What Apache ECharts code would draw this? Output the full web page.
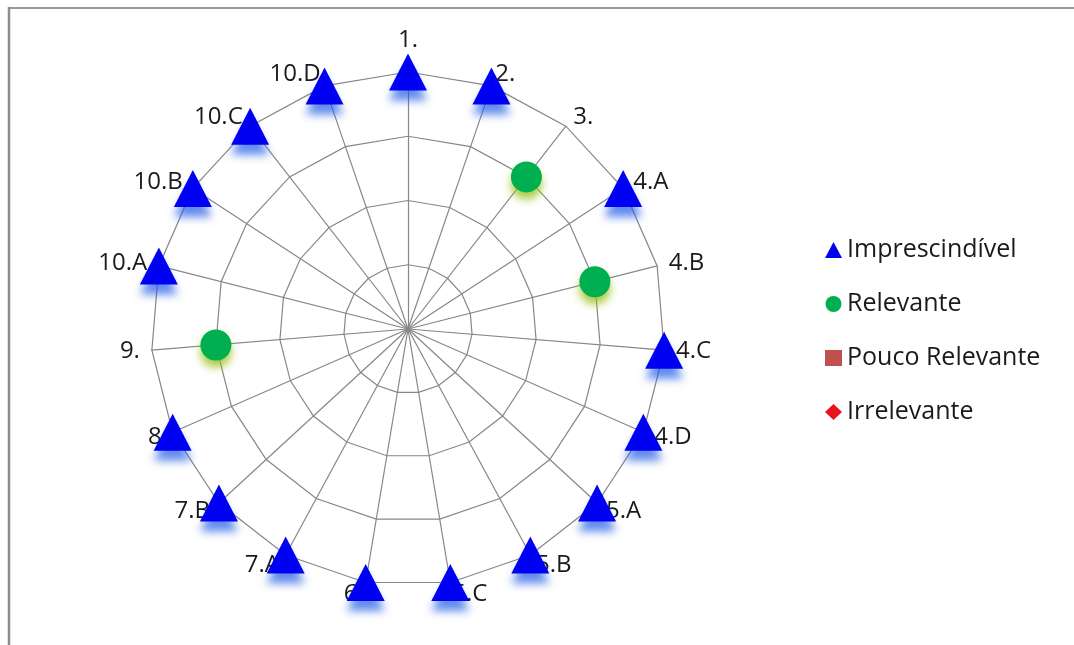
<!DOCTYPE html>
<html>
<head>
<meta charset="utf-8">
<title>Radar de relevância</title>
<script src="https://cdn.jsdelivr.net/npm/echarts@6/dist/echarts.min.js"></script>
<style>
  html, body { margin: 0; padding: 0; background: #ffffff; }
  #chart { width: 1074px; height: 645px; }
</style>
</head>
<body>
<div id="chart"></div>
<script>
// Items evaluated, in clockwise order starting at the top
const categories = ['1.', '2.', '3.', '4.A', '4.B', '4.C', '4.D', '5.A', '5.B', '5.C',
  '6.', '7.A', '7.B', '8', '9.', '10.A', '10.B', '10.C', '10.D'];

// Rating given to each item (4 = Imprescindível ... 1 = Irrelevante)
const ratings = [4, 4, 3, 4, 3, 4, 4, 4, 4, 4, 4, 4, 4, 4, 3, 4, 4, 4, 4];

// Rating scale
const levelNames = ['Imprescindível', 'Relevante', 'Pouco Relevante', 'Irrelevante'];
const levelValues = [4, 3, 2, 1];
const scaleMax = 4;

const CENTER = [408, 329];
const RADIUS = 257;
const FONT = "'Open Sans', 'DejaVu Sans', sans-serif";

// Radar draws its indicators counter-clockwise, so keep the first item on top
// and list the rest in reverse to read clockwise.
const radarOrder = [categories[0]].concat(categories.slice(1).reverse());

const levelStyles = [
  { symbol: 'triangle', size: [38, 37], color: '#0000f2',
    shadowColor: 'rgba(30, 90, 230, 0.7)', shadowBlur: 9, shadowOffsetY: 10 },
  { symbol: 'circle', size: 31, color: '#00b050',
    shadowColor: 'rgba(150, 190, 20, 0.8)', shadowBlur: 9, shadowOffsetY: 7 },
  { symbol: 'rect', size: 16, color: '#c0504d',
    shadowColor: 'rgba(0,0,0,0)', shadowBlur: 0, shadowOffsetY: 0 },
  { symbol: 'diamond', size: 16, color: '#e8141c',
    shadowColor: 'rgba(0,0,0,0)', shadowBlur: 0, shadowOffsetY: 0 }
];

const series = levelNames.map(function (name, k) {
  const level = levelValues[k];
  const st = levelStyles[k];
  const data = [];
  ratings.forEach(function (r, i) {
    if (r === level) data.push([r, i]);
  });
  return {
    name: name,
    type: 'scatter',
    coordinateSystem: 'polar',
    symbol: st.symbol,
    symbolSize: st.size,
    itemStyle: {
      color: st.color,
      opacity: 1,
      shadowColor: st.shadowColor,
      shadowBlur: st.shadowBlur,
      shadowOffsetY: st.shadowOffsetY
    },
    emphasis: { disabled: true },
    z: 5,
    data: data
  };
});

const chart = echarts.init(document.getElementById('chart'), null, { renderer: 'canvas' });

chart.setOption({
  backgroundColor: '#ffffff',
  animation: false,
  textStyle: { fontFamily: FONT },
  radar: {
    center: CENTER,
    radius: RADIUS,
    startAngle: 90,
    shape: 'polygon',
    splitNumber: 4,
    nameGap: 12,
    indicator: radarOrder.map(function (n) { return { name: n, min: 0, max: scaleMax }; }),
    axisName: {
      color: '#1a1a1a',
      fontSize: 24,
      fontFamily: FONT,
      // the top item sits a little higher above its spoke
      formatter: function (name) {
        return name === categories[0] ? '{top|' + name + '}' : name;
      },
      rich: { top: { fontSize: 24, color: '#1a1a1a', padding: [0, 0, 8, 0] } }
    },
    axisLine: { lineStyle: { color: '#878787', width: 1.2 } },
    splitLine: { lineStyle: { color: '#878787', width: 1.2 } },
    splitArea: { show: false },
    axisTick: { show: false },
    axisLabel: { show: false }
  },
  polar: {
    center: CENTER,
    radius: RADIUS
  },
  angleAxis: {
    type: 'category',
    data: categories,
    startAngle: 90,
    clockwise: true,
    boundaryGap: false,
    show: false
  },
  radiusAxis: {
    type: 'value',
    min: 0,
    max: scaleMax,
    show: false
  },
  legend: {
    orient: 'vertical',
    left: 820,
    top: 232,
    itemWidth: 17,
    itemHeight: 16,
    itemGap: 28,
    selectedMode: false,
    data: levelNames,
    itemStyle: { shadowBlur: 0, shadowOffsetY: 0, shadowColor: 'rgba(0,0,0,0)' },
    textStyle: { color: '#1a1a1a', fontSize: 25, fontFamily: FONT, lineHeight: 26 }
  },
  graphic: [
    {
      type: 'line',
      shape: { x1: 9, y1: 8, x2: 1074, y2: 8 },
      style: { stroke: '#9a9a9a', lineWidth: 2 }
    },
    {
      type: 'line',
      shape: { x1: 9, y1: 7, x2: 9, y2: 645 },
      style: { stroke: '#8c8c8c', lineWidth: 2.5 }
    }
  ],
  series: series
});
</script>
</body>
</html>
